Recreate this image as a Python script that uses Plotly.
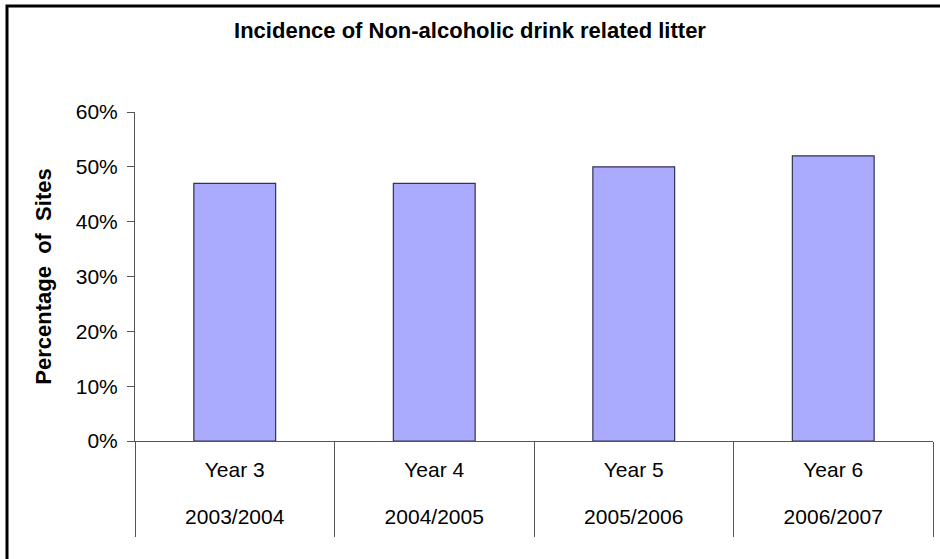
import plotly.graph_objects as go

years = ["Year 3", "Year 4", "Year 5", "Year 6"]
periods = ["2003/2004", "2004/2005", "2005/2006", "2006/2007"]
pct_sites = [0.47, 0.47, 0.50, 0.52]

FONT = "Liberation Sans, Arial, sans-serif"
AXIS_COL = "#555555"

W, H = 940, 559
L, R, T, B = 135, 7, 112, 118
pw = W - L - R
ph = H - T - B

n = len(years)
bounds = [i - 0.5 for i in range(n + 1)]
centers = list(range(n))

fig = go.Figure()
fig.add_trace(go.Bar(
    x=years,
    y=pct_sites,
    width=0.41,
    marker=dict(color="#AAAAFF", line=dict(color="#333355", width=1.2)),
    showlegend=False,
    hoverinfo="skip",
))
# empty helper traces so the overlay axes (separators and period labels) are drawn
fig.add_trace(go.Scatter(x=[bounds[0], bounds[-1]], y=[None, None], xaxis="x2",
                         mode="lines", showlegend=False, hoverinfo="skip"))
fig.add_trace(go.Scatter(x=[bounds[0], bounds[-1]], y=[None, None], xaxis="x3",
                         mode="lines", showlegend=False, hoverinfo="skip"))

fig.update_layout(
    width=W, height=H,
    margin=dict(l=L, r=R, t=T, b=B, autoexpand=False),
    paper_bgcolor="white", plot_bgcolor="white",
    font=dict(family=FONT, size=21, color="black"),
    title=dict(text="<b>Incidence of Non-alcoholic drink related litter</b>",
               x=470 / W, xref="container", xanchor="center",
               y=1 - 30 / H, yref="container", yanchor="middle",
               font=dict(family=FONT, size=22, color="black")),
    xaxis=dict(
        type="category",
        showline=True, linecolor=AXIS_COL, linewidth=1,
        showgrid=False, zeroline=False, ticks="",
        tickfont=dict(family=FONT, size=21, color="black"),
        ticklabelstandoff=10,
    ),
    xaxis2=dict(
        overlaying="x", side="bottom", anchor="y",
        range=[bounds[0], bounds[-1]],
        tickvals=bounds, showticklabels=False,
        ticks="outside", ticklen=95, tickcolor=AXIS_COL, tickwidth=1,
        showline=False, showgrid=False, zeroline=False,
    ),
    xaxis3=dict(
        overlaying="x", side="bottom", anchor="y",
        range=[bounds[0], bounds[-1]],
        tickvals=centers, ticktext=periods, ticks="",
        tickfont=dict(family=FONT, size=21, color="black"),
        ticklabelstandoff=61,
        showline=False, showgrid=False, zeroline=False,
    ),
    yaxis=dict(
        range=[0, 0.6], dtick=0.1, tickformat=".0%",
        showline=True, linecolor=AXIS_COL, linewidth=1,
        ticks="outside", ticklen=7, tickcolor=AXIS_COL,
        showgrid=False, zeroline=False,
        tickfont=dict(family=FONT, size=21, color="black"),
        ticklabelstandoff=5,
        title=dict(text="<b>Percentage&nbsp; of&nbsp; Sites</b>", standoff=18,
                   font=dict(family=FONT, size=22, color="black")),
    ),
    shapes=[dict(
        type="rect", xref="paper", yref="paper",
        x0=(7 - L) / pw, x1=(W + 20 - L) / pw,
        y0=-(H + 20 - T - ph) / ph, y1=(H - B - 6) / ph,
        line=dict(color="black", width=3), fillcolor="rgba(0,0,0,0)",
        layer="below",
    )],
)

fig.write_html("out.html", config={"displayModeBar": False},
               post_script="document.body.style.margin='0px';")
